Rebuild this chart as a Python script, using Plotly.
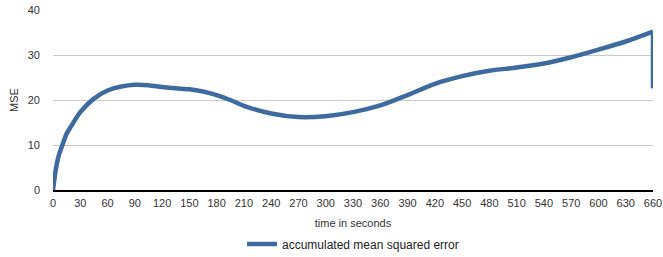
import plotly.graph_objects as go

time_s = [0, 3, 6, 10, 15, 20, 30, 45, 60, 75, 90, 105, 120, 135, 150, 165, 180, 195, 210,
          240, 270, 300, 330, 360, 390, 420, 450, 480, 510, 540, 570, 600, 630, 660]
mse = [0, 4.5, 7.4, 9.8, 12.5, 14.2, 17.3, 20.3, 22.1, 23.0, 23.4, 23.3, 22.9, 22.6, 22.4,
       21.9, 21.1, 20.0, 18.7, 17.0, 16.2, 16.4, 17.3, 18.8, 21.1, 23.6, 25.3, 26.5, 27.2,
       28.1, 29.5, 31.2, 33.0, 35.2]
end_time = [660, 660]
end_mse = [35.2, 22.6]

x_ticks = list(range(0, 661, 30))
y_ticks = [0, 10, 20, 30, 40]

color = "#3d6b9e"
fig = go.Figure()
fig.add_trace(go.Scatter(x=time_s, y=mse, mode="lines", line=dict(color=color, width=4.5, shape="spline", smoothing=0.8),
                         name="accumulated mean squared error"))
fig.add_trace(go.Scatter(x=end_time, y=end_mse, mode="lines", line=dict(color=color, width=4.5),
                         showlegend=False))

fig.update_layout(
    width=663, height=257,
    margin=dict(l=53, r=10, t=10, b=67, autoexpand=False),
    paper_bgcolor="white", plot_bgcolor="white",
    font=dict(family="Liberation Sans, Arial, sans-serif", size=11, color="#333"),
    showlegend=True,
    legend=dict(orientation="h", x=0.5, xanchor="center", y=-0.3, yanchor="middle",
                font=dict(size=12, color="#222"), itemwidth=30),
)
fig.update_xaxes(range=[0, 660], tickvals=x_ticks, showgrid=False, zeroline=False, automargin=False,
                 showline=True, linecolor="black", linewidth=1.5, ticks="", ticklabelstandoff=2,
                 title=dict(text="time in seconds", standoff=11, font=dict(size=11, color="#333")))
fig.update_yaxes(range=[0, 40], tickvals=y_ticks, showgrid=True, gridcolor="#c8c8c8", gridwidth=1,
                 zeroline=False, ticks="", ticklabelstandoff=12, automargin=False,
                 title=dict(text="MSE", standoff=6, font=dict(size=11, color="#333")))
fig.write_html("out.html", config={"displayModeBar": False},
               post_script="document.body.style.margin='0';document.body.style.overflow='hidden';")
